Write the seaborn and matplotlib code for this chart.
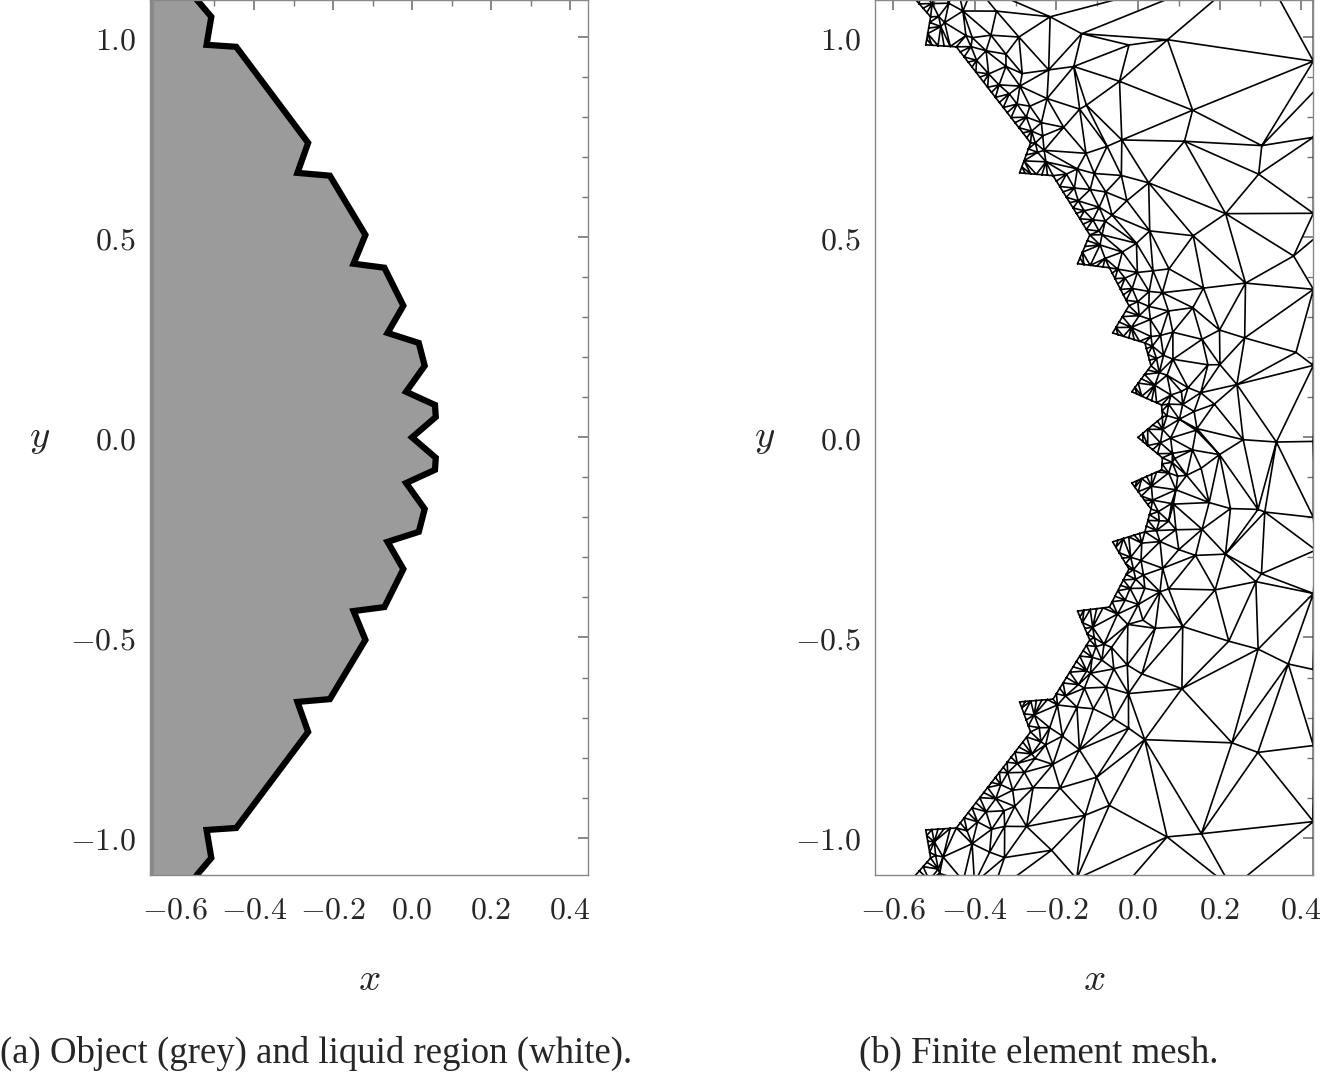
import numpy as np
import matplotlib
matplotlib.use("Agg")
import matplotlib.pyplot as plt
import seaborn as sns
import matplotlib.tri as mtri
from matplotlib.path import Path
from matplotlib.ticker import AutoMinorLocator, FuncFormatter

sns.set_theme(style="white")
plt.rcParams['font.family'] = ['DejaVu Serif']
plt.rcParams['mathtext.fontset'] = 'cm'

# upper half of object boundary (x, y); mirrored for lower half
bx_upper = [0.000, 0.060, 0.058, -0.015, 0.032, 0.017, -0.062, -0.022, -0.070, -0.148, -0.118, -0.208, -0.290, -0.263, -0.445, -0.520, -0.508, -0.545, -0.565]
by_upper = [0.000, 0.051, 0.081, 0.114, 0.179, 0.236, 0.261, 0.329, 0.424, 0.434, 0.506, 0.654, 0.661, 0.736, 0.976, 0.981, 1.051, 1.094, 1.13]

xticks = [-0.6, -0.4, -0.2, 0.0, 0.2, 0.4]
yticks = [-1.0, -0.5, 0.0, 0.5, 1.0]

ux = np.array(bx_upper); uy = np.array(by_upper)
bx = np.concatenate([ux[::-1], ux[1:]])
by = np.concatenate([-uy[::-1], uy[1:]])

fig = plt.figure(figsize=(13.28, 10.76), dpi=100)
ax1 = fig.add_axes([0.113, 0.187, 0.330, 0.813])
ax2 = fig.add_axes([0.659, 0.187, 0.330, 0.813])

# --- left: object ---
X0 = -0.663
poly_x = np.concatenate([[X0], bx, [X0]])
poly_y = np.concatenate([[by[0]], by, [by[-1]]])
ax1.fill(poly_x, poly_y, color="#9b9b9b", lw=0)
ax1.plot(bx, by, color="black", lw=4.5, solid_joinstyle="miter")
ax1.axvline(X0 + 0.004, color="#8a8a8a", lw=3)
ax1.set_xlim(-0.663, 0.446)

# --- right: mesh ---
pts = []
seg_x, seg_y = [], []
for i in range(len(bx) - 1):
    L = np.hypot(bx[i+1]-bx[i], by[i+1]-by[i])
    n = max(1, int(np.ceil(L / 0.016)))
    for t in np.arange(n) / n:
        seg_x.append(bx[i] + t*(bx[i+1]-bx[i])); seg_y.append(by[i] + t*(by[i+1]-by[i]))
seg_x.append(bx[-1]); seg_y.append(by[-1])
seg_x = np.array(seg_x); seg_y = np.array(seg_y)
pts += list(zip(seg_x, seg_y))

def envelope(y, w):
    m = np.abs(seg_y - y) < w
    return seg_x[m].max() if m.any() else np.interp(y, by, bx)

dists = [0.018, 0.040, 0.068, 0.105, 0.155, 0.22, 0.30, 0.40, 0.52, 0.66, 0.82]
for k, d in enumerate(dists):
    h = 0.018 + 0.6 * d
    ys = np.arange(-1.16 + (k % 2) * h / 2, 1.16, h)
    for j, yv in enumerate(ys):
        xv = envelope(yv, d * 0.9 + 0.01) + d + 0.25 * h * np.sin(7.3 * j + 3.1 * k)
        yv2 = yv + 0.2 * h * np.cos(5.1 * j + 1.7 * k)
        if xv < 0.47:
            pts.append((xv, yv2))
for yv in np.arange(-1.15, 1.16, 0.19):
    pts.append((0.43, yv))
pts = np.array(pts)
tri = mtri.Triangulation(pts[:, 0], pts[:, 1])
path = Path(np.column_stack([poly_x, poly_y]))
cx = pts[tri.triangles].mean(axis=1)
inside = path.contains_points(cx)
tri.set_mask(inside)
ax2.triplot(tri, color="black", lw=1.2)
ax2.set_xlim(-0.644, 0.43)

fmt = FuncFormatter(lambda v, p: r"$%.1f$" % v)
for ax in (ax1, ax2):
    ax.set_ylim(-1.093, 1.093)
    ax.set_xticks(xticks); ax.set_yticks(yticks)
    ax.xaxis.set_minor_locator(AutoMinorLocator(2))
    ax.yaxis.set_minor_locator(AutoMinorLocator(5))
    ax.tick_params(which="both", direction="in", top=True, right=True, labelsize=23, color="#777777")
    ax.tick_params(which="major", length=7)
    ax.tick_params(which="minor", length=4)
    ax.tick_params(axis="x", pad=14)
    ax.tick_params(axis="y", pad=10)
    ax.xaxis.set_major_formatter(fmt); ax.yaxis.set_major_formatter(fmt)
    for s in ax.spines.values():
        s.set_color("#888888"); s.set_linewidth(1)
    ax.set_xlabel(r"$x$", fontsize=28, labelpad=26)
    ax.set_ylabel(r"$y$", fontsize=28, rotation=0, labelpad=22, va="center")

fig.text(0.0, 0.012, "(a) Object (grey) and liquid region (white).", fontsize=26.5, family="Liberation Serif")
fig.text(0.647, 0.012, "(b) Finite element mesh.", fontsize=26.5, family="Liberation Serif")
fig.savefig("out.png", dpi=100)
